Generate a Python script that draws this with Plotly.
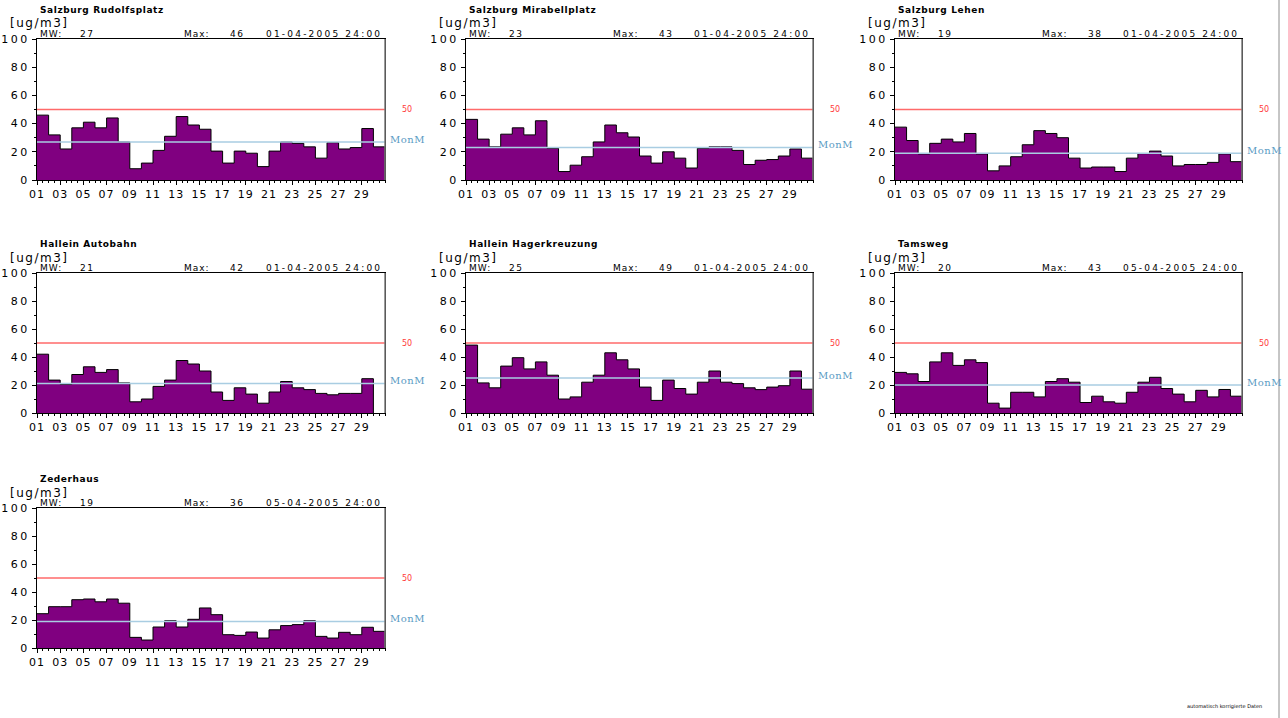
import plotly.graph_objects as go

# ---------------- data ----------------
stations = ["Salzburg Rudolfsplatz", "Salzburg Mirabellplatz", "Salzburg Lehen",
            "Hallein Autobahn", "Hallein Hagerkreuzung", "Tamsweg", "Zederhaus"]
mw_values = [27, 23, 19, 21, 25, 20, 19]
max_values = [46, 43, 38, 42, 49, 43, 36]
max_dates = ["01-04-2005 24:00", "01-04-2005 24:00", "01-04-2005 24:00",
             "01-04-2005 24:00", "01-04-2005 24:00", "05-04-2005 24:00",
             "05-04-2005 24:00"]
limit_value = 50
unit = "[ug/m3]"

rudolfsplatz = [46, 32, 22, 37, 41, 37, 44, 27, 8, 12, 21, 31, 45, 39, 36,
                20.5, 12, 20.5, 19, 9.5, 20.5, 27, 26, 23.5, 15.5, 26.5, 22, 23, 36.5, 23.5]
mirabellplatz = [43, 29, 23.5, 32.5, 37, 32, 42, 22.5, 6, 10.5, 16.5, 27, 39, 33.5, 30.5,
                 17, 12, 20, 15.5, 8.5, 22.5, 23.5, 23.5, 21, 11, 14, 14.5, 17, 22, 15.5]
lehen = [37.5, 28, 18.5, 26, 29, 27, 33, 18.5, 6.5, 10, 16.5, 25, 35, 33, 30,
         15.5, 8.5, 9.2, 9.2, 6, 15.5, 18.7, 20.5, 17, 10, 11, 11, 12.5, 18.5, 13]
autobahn = [42, 23.5, 20.5, 27.5, 33, 29, 31, 21.5, 8, 10, 19, 23.5, 37.5, 35, 30,
            15, 9, 18, 13.5, 7, 15, 22.5, 18, 16.7, 14, 13, 14, 14, 24.5]
hagerkreuzung = [48.5, 21.5, 18, 33.5, 39.5, 31.5, 36.5, 27, 10, 11.5, 22, 27, 43, 38, 31.5,
                 18.5, 9, 23.5, 17.5, 13.5, 22, 30, 22, 21, 18, 16.7, 18.5, 19.5, 30, 17]
tamsweg = [29, 28, 22.5, 36.5, 43, 34, 38, 36, 7, 3.5, 14.8, 14.8, 11.5, 22.5, 24.5,
           22, 7.5, 12, 8, 7, 14.8, 22, 25.5, 17.5, 13.5, 8, 16.2, 11.5, 16.8, 12]
zederhaus = [24.5, 29.5, 29.5, 34.5, 35, 33, 35, 32, 7.6, 5.7, 15, 19.5, 15, 20.5, 28.6,
             23.8, 9.5, 9, 11.4, 7.1, 13, 16, 16.7, 19.5, 8.3, 7.1, 11.2, 9.5, 14.8, 11.9]
series = [rudolfsplatz, mirabellplatz, lehen, autobahn, hagerkreuzung, tamsweg, zederhaus]

days = list(range(1, 32))                      # day start positions
x_tick_days = [1, 3, 5, 7, 9, 11, 13, 15, 17, 19, 21, 23, 25, 27, 29]
x_tick_labels = ["01", "03", "05", "07", "09", "11", "13", "15",
                 "17", "19", "21", "23", "25", "27", "29"]
y_tick_values = [0, 20, 40, 60, 80, 100]
y_tick_labels = ["0", "20", "40", "60", "80", "100"]

# ---------------- layout constants (pixels) ----------------
W, H = 1288, 718
FRAME_X = [(37, 385), (466, 813), (895, 1242)]
FRAME_Y = [(39, 180), (273, 413), (508, 648)]   # (top, bottom)
PURPLE = "#800080"
RED = "#ff6a6a"
BLUE = "#a9cde2"
BLUE_TXT = "#5b9bc4"
FONT = "DejaVu Sans"


def px(x):
    return x / W


def py(y):
    return 1 - y / H


def sp(text, ls=1):
    return f'<span style="letter-spacing:{ls}px">{text}</span>'


fig = go.Figure()
annotations = []
shapes = []

for i, (name, vals) in enumerate(zip(stations, series)):
    row, col = divmod(i, 3)
    L, R = FRAME_X[col]
    T, B = FRAME_Y[row]
    k = i + 1
    xa = "x" if k == 1 else f"x{k}"
    ya = "y" if k == 1 else f"y{k}"
    n = len(vals)
    xs = days[:n] + [days[n], days[n]]
    ys = list(vals) + [vals[-1], 0]
    fig.add_trace(go.Scatter(
        x=xs, y=ys, mode="lines", line=dict(shape="hv", color="black", width=1),
        fill="tozeroy", fillcolor=PURPLE, xaxis=xa, yaxis=ya, showlegend=False,
        hoverinfo="skip"))

    fig.update_layout({
        f"xaxis{'' if k == 1 else k}": dict(
            domain=[px(L), px(R)], range=[1, 31], anchor=ya, automargin=False,
            tickvals=x_tick_days, ticktext=[sp(t, 1) for t in x_tick_labels],
            ticks="outside", ticklen=4,
            tickcolor="black", tickfont=dict(family=FONT, size=11, color="black"),
            minor=dict(tick0=1, dtick=0.5, ticks="outside", ticklen=2, tickcolor="black"),
            showline=True, mirror=True, linecolor="black", linewidth=1,
            showgrid=False, zeroline=False, fixedrange=True),
        f"yaxis{'' if k == 1 else k}": dict(
            domain=[py(B), py(T)], range=[0, 100], anchor=xa, automargin=False,
            tickvals=y_tick_values, ticktext=[sp(t, 2.5) for t in y_tick_labels],
            ticks="outside", ticklen=4, tickcolor="black",
            tickfont=dict(family=FONT, size=11, color="black"),
            minor=dict(dtick=10, ticks="outside", ticklen=2, tickcolor="black"),
            showline=True, mirror=True, linecolor="black", linewidth=1,
            showgrid=False, zeroline=False, fixedrange=True),
    })

    # limit line and mean line
    shapes.append(dict(type="line", xref=f"{xa} domain", yref=ya, x0=0, x1=1,
                       y0=limit_value, y1=limit_value, line=dict(color=RED, width=1.5)))
    shapes.append(dict(type="line", xref=f"{xa} domain", yref=ya, x0=0, x1=1,
                       y0=mw_values[i], y1=mw_values[i], line=dict(color=BLUE, width=1.5)))
    # greyish right frame edge
    shapes.append(dict(type="line", xref=f"{xa} domain", yref=f"{ya} domain",
                       x0=1, x1=1, y0=0, y1=1, line=dict(color="#7a7a7a", width=1.5)))

    small = dict(family=FONT, size=9, color="black")
    annotations += [
        dict(x=px(L + 1), y=py(T - 29), xref="paper", yref="paper", text=sp(name, 0.6),
             showarrow=False, xanchor="left", yanchor="middle",
             font=dict(family=FONT, size=9, color="black", weight="bold")),
        dict(x=px(L - 29), y=py(T - 15.5), xref="paper", yref="paper", text=sp(unit, 1.5),
             showarrow=False, xanchor="left", yanchor="middle",
             font=dict(family=FONT, size=12, color="black")),
        dict(x=px(L + 1), y=py(T - 5), xref="paper", yref="paper", text=sp("MW:", 1),
             showarrow=False, xanchor="left", yanchor="middle", font=small),
        dict(x=px(L + 41), y=py(T - 5), xref="paper", yref="paper",
             text=sp(str(mw_values[i]), 1.5),
             showarrow=False, xanchor="left", yanchor="middle", font=small),
        dict(x=px(L + 145), y=py(T - 5), xref="paper", yref="paper", text=sp("Max:", 1),
             showarrow=False, xanchor="left", yanchor="middle", font=small),
        dict(x=px(L + 191), y=py(T - 5), xref="paper", yref="paper",
             text=sp(str(max_values[i]), 1.5),
             showarrow=False, xanchor="left", yanchor="middle", font=small),
        dict(x=px(R - 1), y=py(T - 5), xref="paper", yref="paper",
             text=sp(max_dates[i], 2.2),
             showarrow=False, xanchor="right", yanchor="middle", font=small),
        dict(x=px(R + 22), y=limit_value, xref="paper", yref=ya, text=str(limit_value),
             showarrow=False, xanchor="center", yanchor="middle",
             font=dict(family=FONT, size=8, color="#ff3a3a")),
        dict(x=px(R + 3), y=mw_values[i] + 2, xref="paper", yref=ya, text=sp("MonM", 0.5),
             showarrow=False, xanchor="left", yanchor="middle",
             font=dict(family="DejaVu Serif", size=10, color=BLUE_TXT)),
    ]

annotations.append(dict(x=px(1224), y=py(706), xref="paper", yref="paper",
                        text="automatisch korrigierte Daten", showarrow=False,
                        xanchor="center", yanchor="middle",
                        font=dict(family=FONT, size=5, color="black")))
shapes.append(dict(type="line", xref="paper", yref="paper", x0=px(1279), x1=px(1279),
                   y0=0, y1=1, line=dict(color="#8c8c8c", width=1)))

fig.update_layout(width=W, height=H, margin=dict(l=0, r=0, t=0, b=0, autoexpand=False),
                  paper_bgcolor="white", plot_bgcolor="white",
                  annotations=annotations, shapes=shapes, showlegend=False)

fig.write_html("out.html", config={"displayModeBar": False},
               post_script="document.body.style.margin='0';"
                           "document.body.style.overflow='hidden';")
